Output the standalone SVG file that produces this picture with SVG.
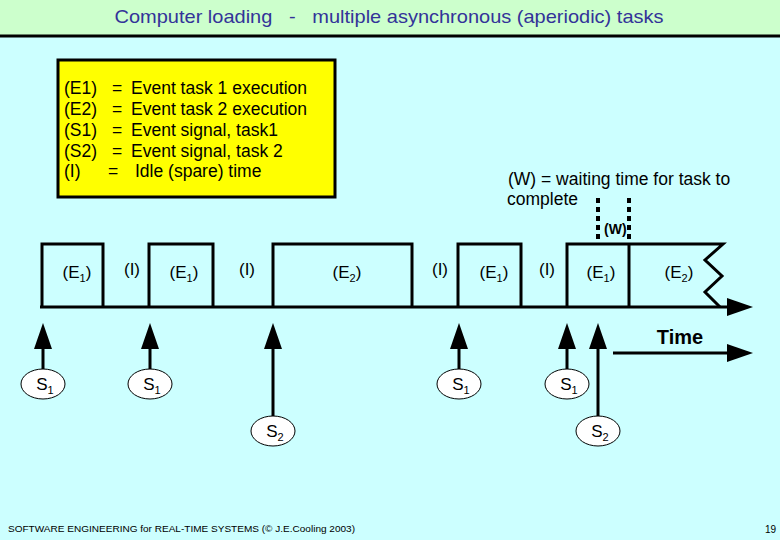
<svg xmlns="http://www.w3.org/2000/svg" width="780" height="540" viewBox="0 0 780 540">
<defs>
<style>
text{font-family:"Liberation Sans",Arial,sans-serif;fill:#000}
.title{font-size:19px;fill:#333399}
.leg{font-size:17.5px}
.lbl{font-size:17px}
.sub{font-size:11px}
.box{fill:none;stroke:#000;stroke-width:3;stroke-linejoin:miter}
.ln{fill:none;stroke:#000;stroke-width:3}
.sig{fill:#fff;stroke:#000;stroke-width:1}
.dash{fill:none;stroke:#000;stroke-width:4;stroke-dasharray:5 4}
</style>
<marker id="ah" markerUnits="userSpaceOnUse" markerWidth="26" markerHeight="18" viewBox="0 0 26 18" refX="1" refY="9" orient="auto">
<path d="M0,0 L26,9 L0,18 z" fill="#000"/>
</marker>
</defs>
<rect x="0" y="0" width="780" height="540" fill="#ccffff"/>
<rect x="0" y="0" width="780" height="35" fill="#ccffcc"/>
<line x1="0" y1="36" x2="780" y2="36" stroke="#000" stroke-width="3"/>
<text class="title" x="389" y="23" text-anchor="middle" xml:space="preserve" textLength="549" lengthAdjust="spacingAndGlyphs">Computer loading   -   multiple asynchronous (aperiodic) tasks</text>

<g id="legend">
<rect x="58" y="60" width="277" height="137" fill="#ffff00" stroke="#000" stroke-width="3"/>
<text class="leg" x="64" y="94">(E1)</text><text class="leg" x="112" y="94">=</text><text class="leg" x="131" y="94">Event task 1 execution</text>
<text class="leg" x="64" y="115">(E2)</text><text class="leg" x="112" y="115">=</text><text class="leg" x="131" y="115">Event task 2 execution</text>
<text class="leg" x="64" y="136">(S1)</text><text class="leg" x="112" y="136">=</text><text class="leg" x="131" y="136">Event signal, task1</text>
<text class="leg" x="64" y="157">(S2)</text><text class="leg" x="112" y="157">=</text><text class="leg" x="131" y="157">Event signal, task 2</text>
<text class="leg" x="64" y="177">(I)</text><text class="leg" x="108" y="177">=</text><text class="leg" x="135" y="177">Idle (spare) time</text>
</g>

<g id="wait-note">
<text class="leg" x="508" y="185">(W) = waiting time for task to</text>
<text class="leg" x="507" y="205">complete</text>
</g>

<g id="timeline">
<path class="box" d="M42,307 L42,244 L103,244 L103,307 M149,307 L149,244 L213,244 L213,307 M273,307 L273,244 L412,244 L412,307 M458,307 L458,244 L521,244 L521,307 M567,307 L567,244 L723,244 L705,260 L722,276 L705,292 L720,307 M629,244 L629,307"/>
</g>

<g id="wait-marker">
<line class="dash" x1="598" y1="198" x2="598" y2="244"/>
<line class="dash" x1="629" y1="198" x2="629" y2="244"/>
<text x="604" y="234" style="font-size:14px;font-weight:bold">(W)</text>
</g>

<g id="labels">
<text class="lbl" x="77" y="278" text-anchor="middle">(E<tspan class="sub" dy="4">1</tspan><tspan dy="-4">)</tspan></text>
<text class="lbl" x="132" y="275" text-anchor="middle">(I)</text>
<text class="lbl" x="184" y="278" text-anchor="middle">(E<tspan class="sub" dy="4">1</tspan><tspan dy="-4">)</tspan></text>
<text class="lbl" x="247" y="275" text-anchor="middle">(I)</text>
<text class="lbl" x="347" y="278" text-anchor="middle">(E<tspan class="sub" dy="4">2</tspan><tspan dy="-4">)</tspan></text>
<text class="lbl" x="440" y="275" text-anchor="middle">(I)</text>
<text class="lbl" x="494" y="278" text-anchor="middle">(E<tspan class="sub" dy="4">1</tspan><tspan dy="-4">)</tspan></text>
<text class="lbl" x="547" y="275" text-anchor="middle">(I)</text>
<text class="lbl" x="601" y="278" text-anchor="middle">(E<tspan class="sub" dy="4">1</tspan><tspan dy="-4">)</tspan></text>
<text class="lbl" x="679" y="278" text-anchor="middle">(E<tspan class="sub" dy="4">2</tspan><tspan dy="-4">)</tspan></text>
</g>

<g id="connectors">
<line class="ln" x1="40" y1="307" x2="728" y2="307" marker-end="url(#ah)"/>
<line class="ln" x1="613" y1="353" x2="728" y2="353" marker-end="url(#ah)"/>
<line class="ln" x1="43" y1="369" x2="43" y2="348" marker-end="url(#ah)"/>
<line class="ln" x1="150" y1="369" x2="150" y2="348" marker-end="url(#ah)"/>
<line class="ln" x1="273" y1="416" x2="273" y2="348" marker-end="url(#ah)"/>
<line class="ln" x1="459" y1="369" x2="459" y2="348" marker-end="url(#ah)"/>
<line class="ln" x1="567" y1="369" x2="567" y2="348" marker-end="url(#ah)"/>
<line class="ln" x1="598" y1="416" x2="598" y2="348" marker-end="url(#ah)"/>
</g>

<g id="time-label"><text x="680" y="344" text-anchor="middle" style="font-size:20px;font-weight:bold">Time</text></g>

<g id="s1a"><ellipse class="sig" cx="43" cy="384" rx="22" ry="15"/><text class="lbl" x="45" y="390" text-anchor="middle">S<tspan class="sub" dy="4">1</tspan></text></g>
<g id="s1b"><ellipse class="sig" cx="150" cy="384" rx="22" ry="15"/><text class="lbl" x="152" y="390" text-anchor="middle">S<tspan class="sub" dy="4">1</tspan></text></g>
<g id="s2a"><ellipse class="sig" cx="273" cy="431" rx="22" ry="15"/><text class="lbl" x="275" y="437" text-anchor="middle">S<tspan class="sub" dy="4">2</tspan></text></g>
<g id="s1c"><ellipse class="sig" cx="459" cy="384" rx="22" ry="15"/><text class="lbl" x="461" y="390" text-anchor="middle">S<tspan class="sub" dy="4">1</tspan></text></g>
<g id="s1d"><ellipse class="sig" cx="567" cy="384" rx="22" ry="15"/><text class="lbl" x="569" y="390" text-anchor="middle">S<tspan class="sub" dy="4">1</tspan></text></g>
<g id="s2b"><ellipse class="sig" cx="598" cy="431" rx="22" ry="15"/><text class="lbl" x="600" y="437" text-anchor="middle">S<tspan class="sub" dy="4">2</tspan></text></g>

<g id="footer">
<text x="8" y="532" style="font-size:9px" textLength="347" lengthAdjust="spacingAndGlyphs">SOFTWARE ENGINEERING for REAL-TIME SYSTEMS (© J.E.Cooling 2003)</text>
<text x="765" y="533" style="font-size:10px">19</text>
</g>
</svg>
